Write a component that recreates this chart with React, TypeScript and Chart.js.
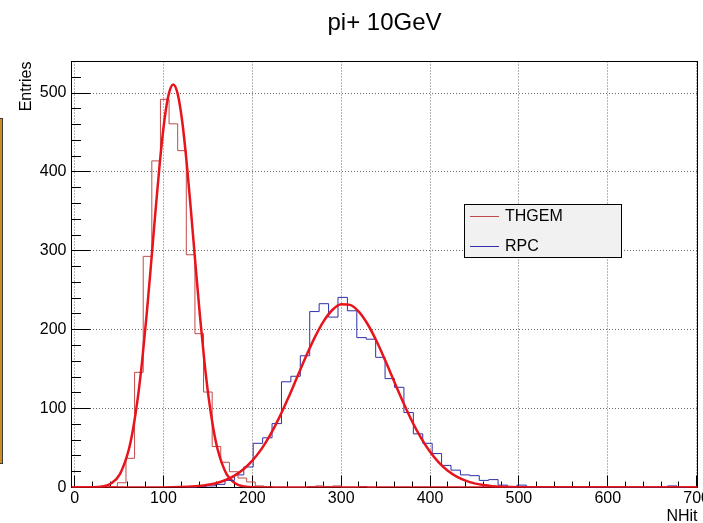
import React, { useEffect, useRef } from 'react';
import { Chart, registerables } from 'chart.js';

Chart.register(...registerables);

// ---------- data ----------
const chartTitle = 'pi+ 10GeV';
const xAxisTitle = 'NHit';
const yAxisTitle = 'Entries';
const xTickValues = [0, 100, 200, 300, 400, 500, 600, 700];
const yTickValues = [0, 100, 200, 300, 400, 500];
const xMin = -3.5;
const xMax = 701;
const yMin = 0;
const yMax = 540;
const xMinorStep = 20;
const yMinorStep = 20;

const thgemLabel = 'THGEM';
const thgemFirstEdge = 38.4;
const thgemBinWidth = 9.7;
const thgemCounts = [
  1, 6, 37, 146, 293, 414, 492, 461, 427, 295, 195, 121, 52, 32, 20, 12, 7, 2, 1, 0,
  0, 0, 0, 1, 2, 1, 2, 0, 0, 1, 0,
];

const rpcLabel = 'RPC';
const rpcFirstEdge = 126.8;
const rpcBinWidth = 10.6;
const rpcCounts = [
  0, 1, 2, 4, 9, 16, 26, 56, 63, 81, 134, 141, 167, 223, 233, 216, 241, 224, 190, 188,
  165, 138, 127, 95, 68, 56, 43, 28, 22, 16, 15, 9, 10, 3, 0, 3, 0, 0, 0, 0,
  0, 0, 0, 0, 0, 0, 0, 0, 0, 0, 0, 2, 0,
];

// Gaussian fit curves at sample positions
const thgemFitX = [
  -3.5, 21, 31, 41, 51, 61, 66, 71, 76, 81, 86, 91, 96, 101, 106, 111, 116, 121, 126, 131,
  136, 141, 146, 151, 156, 161, 171, 181, 191, 201, 221, 701,
];
const thgemFitY = [
  0, 0.2, 1.2, 5.0, 17.0, 48.1, 75.4, 112.6, 160.6, 218.3, 283.0, 350.1, 413.1, 464.9, 499.0, 511,
  499.0, 464.9, 413.1, 350.1, 283.0, 218.3, 160.6, 112.6, 75.4, 48.1, 17.0, 5.0, 1.2, 0.2, 0, 0,
];
const rpcFitX = [
  -3.5, 100, 120, 140, 150, 160, 170, 180, 190, 200, 210, 220, 230, 240, 250, 260, 270, 280, 290, 300,
  310, 320, 330, 340, 350, 360, 370, 380, 390, 400, 410, 420, 430, 440, 450, 460, 470, 480, 500, 701,
];
const rpcFitY = [
  0, 0.1, 0.6, 1.9, 3.4, 5.8, 9.5, 15.1, 23.1, 34.0, 48.3, 66.4, 87.9, 112.4, 138.7, 165.1, 189.7, 210.3, 225.0, 232.3,
  231.5, 222.6, 206.6, 185.0, 159.9, 133.3, 107.3, 83.3, 62.5, 45.2, 31.5, 21.2, 13.8, 8.7, 5.2, 3.1, 1.7, 0.9, 0.25, 0,
];

// ---------- styles ----------
const FONT = "'Liberation Sans', Arial, Helvetica, sans-serif";
const thgemColor = '#c04a4a';
const rpcColor = '#2f2fa8';
const fitColor = '#e8141c';
const gridColor = '#6a6a6a';

function histPoints(first: number, width: number, counts: number[]) {
  const pts: { x: number; y: number }[] = [{ x: first, y: 0 }];
  counts.forEach((c, i) => pts.push({ x: first + i * width, y: c }));
  pts.push({ x: first + counts.length * width, y: 0 });
  return pts;
}

function curvePoints(xs: number[], ys: number[]) {
  return xs.map((x, i) => ({ x, y: ys[i] }));
}

const framePlugin = {
  id: 'rootFrame',
  beforeDatasetsDraw(chart: any) {
    const { ctx, chartArea: a, scales } = chart;
    const x = scales.x;
    const y = scales.y;
    ctx.save();
    ctx.strokeStyle = '#000';
    ctx.lineWidth = 1;
    ctx.strokeRect(a.left, a.top, a.right - a.left, a.bottom - a.top);
    ctx.beginPath();
    for (let v = xTickValues[0]; v <= xTickValues[xTickValues.length - 1]; v += xMinorStep) {
      const px = Math.round(x.getPixelForValue(v) - 0.5) + 0.5;
      const len = xTickValues.includes(v) ? 12 : 6;
      ctx.moveTo(px, a.bottom);
      ctx.lineTo(px, a.bottom - len);
    }
    for (let v = yMin; v <= yMax; v += yMinorStep) {
      const py = Math.round(y.getPixelForValue(v) - 0.5) + 0.5;
      const len = yTickValues.includes(v) ? 19 : 9.5;
      ctx.moveTo(a.left, py);
      ctx.lineTo(a.left + len, py);
    }
    ctx.stroke();
    ctx.restore();
  },
};

const legendPlugin = {
  id: 'rootLegend',
  afterDraw(chart: any) {
    const { ctx } = chart;
    const box = { left: 464.5, top: 204.5, right: 621.5, bottom: 257.5 };
    ctx.save();
    ctx.fillStyle = '#f1f1f1';
    ctx.fillRect(box.left, box.top, box.right - box.left, box.bottom - box.top);
    ctx.strokeStyle = '#000';
    ctx.lineWidth = 1;
    ctx.strokeRect(box.left, box.top, box.right - box.left, box.bottom - box.top);
    const entries = [
      { label: thgemLabel, color: thgemColor, y: 216.5 },
      { label: rpcLabel, color: rpcColor, y: 246.5 },
    ];
    ctx.font = `16px ${FONT}`;
    ctx.textBaseline = 'middle';
    ctx.textAlign = 'left';
    for (const e of entries) {
      ctx.strokeStyle = e.color;
      ctx.beginPath();
      ctx.moveTo(470, e.y);
      ctx.lineTo(499, e.y);
      ctx.stroke();
      ctx.fillStyle = '#000';
      ctx.fillText(e.label, 505, e.y + 0.5);
    }
    ctx.restore();
  },
};

export default function App() {
  const ref = useRef<HTMLCanvasElement>(null);

  useEffect(() => {
    document.body.style.margin = '0';
    const tickFont = { family: FONT, size: 16 };
    const chart = new Chart(ref.current as HTMLCanvasElement, {
      type: 'line',
      data: {
        datasets: [
          {
            label: thgemLabel,
            data: histPoints(thgemFirstEdge, thgemBinWidth, thgemCounts),
            borderColor: thgemColor,
            borderWidth: 1,
            stepped: 'before',
            pointRadius: 0,
            fill: false,
            order: 3,
          },
          {
            label: thgemLabel + ' fit',
            data: curvePoints(thgemFitX, thgemFitY),
            borderColor: fitColor,
            borderWidth: 2.5,
            cubicInterpolationMode: 'monotone',
            pointRadius: 0,
            fill: false,
            order: 2,
          },
          {
            label: rpcLabel,
            data: histPoints(rpcFirstEdge, rpcBinWidth, rpcCounts),
            borderColor: rpcColor,
            borderWidth: 1,
            stepped: 'before',
            pointRadius: 0,
            fill: false,
            order: 1,
          },
          {
            label: rpcLabel + ' fit',
            data: curvePoints(rpcFitX, rpcFitY),
            borderColor: fitColor,
            borderWidth: 2.5,
            cubicInterpolationMode: 'monotone',
            pointRadius: 0,
            fill: false,
            order: 0,
          },
        ] as any,
      },
      options: {
        animation: false,
        responsive: false,
        devicePixelRatio: 1,
        events: [],
        layout: { padding: { left: 0, right: 5.5, top: 0, bottom: 0 } },
        plugins: {
          legend: { display: false },
          tooltip: { enabled: false },
          title: {
            display: true,
            text: chartTitle,
            fullSize: false,
            color: '#000',
            font: { family: FONT, size: 24, weight: 'normal' },
            padding: { top: 8.9, bottom: 23.8 },
          },
        },
        scales: {
          x: {
            type: 'linear',
            min: xMin,
            max: xMax,
            bounds: 'data',
            afterBuildTicks: (s: any) => {
              s.ticks = xTickValues.map((v) => ({ value: v }));
            },
            afterFit: (s: any) => {
              s.height = 35.5;
              s.paddingLeft = 0;
              s.paddingRight = 0;
            },
            ticks: {
              autoSkip: false,
              maxRotation: 0,
              minRotation: 0,
              padding: 1.2,
              color: '#000',
              font: tickFont,
              callback: (v: any) => String(v),
            },
            grid: { drawTicks: false, color: gridColor, lineWidth: 1 },
            border: { display: false, dash: [1, 2] },
            title: {
              display: true,
              text: xAxisTitle,
              align: 'end',
              color: '#000',
              font: { family: FONT, size: 16 },
              padding: { top: 0, bottom: -2.9 },
            },
          },
          y: {
            type: 'linear',
            min: yMin,
            max: yMax,
            bounds: 'data',
            afterBuildTicks: (s: any) => {
              s.ticks = yTickValues.map((v) => ({ value: v }));
            },
            afterFit: (s: any) => {
              s.width = 71.5;
              s.paddingTop = 0;
              s.paddingBottom = 0;
            },
            ticks: {
              autoSkip: false,
              padding: 5,
              color: '#000',
              font: tickFont,
              callback: (v: any) => String(v),
            },
            grid: { drawTicks: false, color: gridColor, lineWidth: 1 },
            border: { display: false, dash: [1, 2] },
            title: {
              display: true,
              text: yAxisTitle,
              align: 'end',
              color: '#000',
              font: { family: FONT, size: 16 },
              padding: { top: 17.1, bottom: 0 },
            },
          },
        },
      } as any,
      plugins: [framePlugin, legendPlugin],
    });
    return () => chart.destroy();
  }, []);

  return (
    <div style={{ position: 'fixed', left: 0, top: 0, width: 703, height: 523, background: '#fff' }}>
      <canvas ref={ref} width={703} height={523} style={{ display: 'block', width: 703, height: 523 }} />
      <div
        style={{
          position: 'absolute',
          left: 0,
          top: 118,
          width: 2,
          height: 344,
          background: '#c8901e',
          borderTop: '1px solid #3a3a3a',
          borderBottom: '1px solid #3a3a3a',
          borderRight: '1px solid #3a3a3a',
        }}
      />
    </div>
  );
}
